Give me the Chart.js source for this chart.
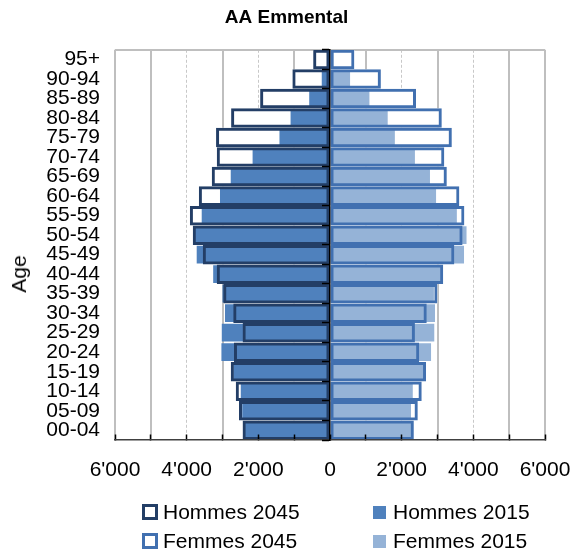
<!DOCTYPE html>
<html><head><meta charset="utf-8">
<script src="https://cdn.jsdelivr.net/npm/chart.js@4.4.0/dist/chart.umd.min.js"></script>
<style>
html,body{margin:0;padding:0;background:#fff;}
#wrap{position:relative;width:574px;height:555px;overflow:hidden;}
#c{position:absolute;left:0;top:0;}
.lg{position:absolute;font:21px "Liberation Sans",Arial,sans-serif;line-height:24px;color:#000;display:flex;align-items:center;white-space:nowrap;}
.box{display:inline-block;box-sizing:border-box;}
#ytitle{position:absolute;left:19px;top:274px;font:21px "Liberation Sans",Arial,sans-serif;color:#000;transform:translate(-50%,-50%) rotate(-90deg);white-space:nowrap;}
</style></head>
<body>
<div id="wrap">
<canvas id="c" width="574" height="555"></canvas>
<div id="ytitle">Age</div>
<div class="lg" style="left:142px;top:500px"><span class="box" style="width:16px;height:16px;border:3px solid #233E66;background:#fff;margin-right:5px"></span><span id="l0"></span></div>
<div class="lg" style="left:373px;top:500px"><span class="box" style="width:13px;height:13px;background:#4F81BD;margin-right:7px"></span><span id="l1"></span></div>
<div class="lg" style="left:142px;top:529px"><span class="box" style="width:16px;height:16px;border:3px solid #4170B0;background:#fff;margin-right:5px"></span><span id="l2"></span></div>
<div class="lg" style="left:373px;top:529px"><span class="box" style="width:13px;height:13px;background:#95B3D7;margin-right:7px"></span><span id="l3"></span></div>
</div>
<script>
const chartTitle = 'AA Emmental';
const axisTitle = 'Age';
const seriesNames = ['Hommes 2045', 'Hommes 2015', 'Femmes 2045', 'Femmes 2015'];
const ages = ['95+','90-94','85-89','80-84','75-79','70-74','65-69','60-64','55-59','50-54','45-49','40-44','35-39','30-34','25-29','20-24','15-19','10-14','05-09','00-04'];
const hommes2045 = [470,1050,1950,2760,3180,3160,3300,3660,3910,3830,3550,3160,2980,2700,2440,2680,2770,2630,2540,2440];
const hommes2015 = [80,230,580,1100,1410,2160,2770,3070,3580,3780,3720,3260,3000,2930,3020,3030,2700,2490,2450,2380];
const femmes2045 = [680,1420,2400,3120,3400,3190,3260,3610,3750,3700,3470,3160,3000,2700,2370,2490,2680,2560,2450,2340];
const femmes2015 = [100,560,1100,1610,1810,2370,2790,2960,3540,3810,3740,3100,2900,2930,2910,2820,2600,2310,2260,2290];
const xMin = -6000, xMax = 6000, xStep = 1000;
const xLabelled = [-6000,-4000,-2000,0,2000,4000,6000];

document.getElementById('ytitle').textContent = axisTitle;
seriesNames.forEach((n,i)=>document.getElementById('l'+i).textContent = n);

const neg = a => a.map(v => -v);
const fmt = v => { const a = Math.abs(v); return a >= 1000 ? Math.floor(a/1000) + "'" + String(a%1000).padStart(3,'0') : String(a); };

const C_H45 = '#233E66', C_H15 = '#4F81BD', C_F45 = '#4170B0', C_F15 = '#95B3D7';
const FONT = '"Liberation Sans", Arial, sans-serif';

const base = {grouped:false, categoryPercentage:1, borderSkipped:false, inflateAmount:0};
const datasets = [
  Object.assign({}, base, {label:seriesNames[0], data:neg(hommes2045), backgroundColor:'#ffffff', borderWidth:0, barPercentage:1, order:5}),
  Object.assign({}, base, {label:seriesNames[2], data:femmes2045, backgroundColor:'#ffffff', borderWidth:0, barPercentage:1, order:5}),
  Object.assign({}, base, {label:seriesNames[1], data:neg(hommes2015), backgroundColor:C_H15, borderWidth:0, barPercentage:0.91, order:3}),
  Object.assign({}, base, {label:seriesNames[3], data:femmes2015, backgroundColor:C_F15, borderWidth:0, barPercentage:0.91, order:3}),
  Object.assign({}, base, {label:seriesNames[0]+' ', data:neg(hommes2045), backgroundColor:'rgba(0,0,0,0)', borderColor:C_H45, borderWidth:3, barPercentage:1, order:1}),
  Object.assign({}, base, {label:seriesNames[2]+' ', data:femmes2045, backgroundColor:'rgba(0,0,0,0)', borderColor:C_F45, borderWidth:3, barPercentage:1, order:1})
];

new Chart(document.getElementById('c'), {
  type:'bar',
  data:{labels:ages, datasets},
  options:{
    indexAxis:'y',
    responsive:false,
    animation:false,
    devicePixelRatio:1,
    layout:{padding:{left:28, right:29, top:0, bottom:55}},
    plugins:{
      legend:{display:false},
      tooltip:{enabled:false},
      title:{display:true, text:chartTitle, color:'#000', font:{family:FONT, size:19, weight:'bold'}, padding:{top:6, bottom:21}}
    },
    scales:{
      x:{
        type:'linear', min:xMin, max:xMax, position:'bottom',
        afterBuildTicks: s => { s.ticks = []; for (let v = xMin; v <= xMax; v += xStep) s.ticks.push({value:v}); },
        afterFit: s => { s.height = 60; },
        ticks:{autoSkip:false, maxRotation:0, padding:0, color:'#000', font:{family:FONT, size:21},
          callback: v => xLabelled.includes(v) ? fmt(v) : ''},
        grid:{drawTicks:true, tickLength:18, tickColor:'rgba(0,0,0,0)',
          color: ctx => { const v = ctx.tick ? ctx.tick.value : 1; if (v === 0) return 'rgba(0,0,0,0)'; if (Math.abs(v) === 6000 || Math.abs(v) % 2000 === 1000) return '#BFBFBF'; return '#C8C8C8'; },
          lineWidth: ctx => { const v = ctx.tick ? ctx.tick.value : 1; if (Math.abs(v) === 6000) return 2; if (Math.abs(v) % 2000 === 1000) return 2; return 1; }
        },
        border:{display:false,
          dash: ctx => { const v = ctx.tick ? ctx.tick.value : 1; return (Math.abs(v) === 2000 || Math.abs(v) === 4000) ? [3,2] : []; }
        }
      },
      xt:{
        type:'linear', min:xMin, max:xMax, position:{y:19.5},
        afterBuildTicks: s => { s.ticks = []; for (let v = xMin; v <= xMax; v += xStep) s.ticks.push({value:v}); },
        ticks:{display:false},
        grid:{drawOnChartArea:false, drawTicks:true, tickLength:-6, tickColor:'#000', tickWidth:1.5, z:1},
        border:{display:true, color:'#404040', width:1.5, z:1}
      },
      y:{
        type:'category', position:'left', offset:true,
        afterFit: s => { s.width = 87; },
        ticks:{autoSkip:false, padding:15, color:'#000', font:{family:FONT, size:21}},
        grid:{offset:true, drawTicks:false, color: ctx => ctx.index === 0 ? '#BFBFBF' : 'rgba(0,0,0,0)', lineWidth:2},
        border:{display:false}
      },
      y2:{
        type:'category', labels:ages, position:{x:0}, offset:true,
        ticks:{display:false},
        grid:{offset:true, drawOnChartArea:false, drawTicks:true, tickLength:7, tickColor:'#000', tickWidth:1.5, z:1},
        border:{display:true, color:'#000', width:1.5, z:1}
      }
    }
  }
});
</script>
</body></html>
